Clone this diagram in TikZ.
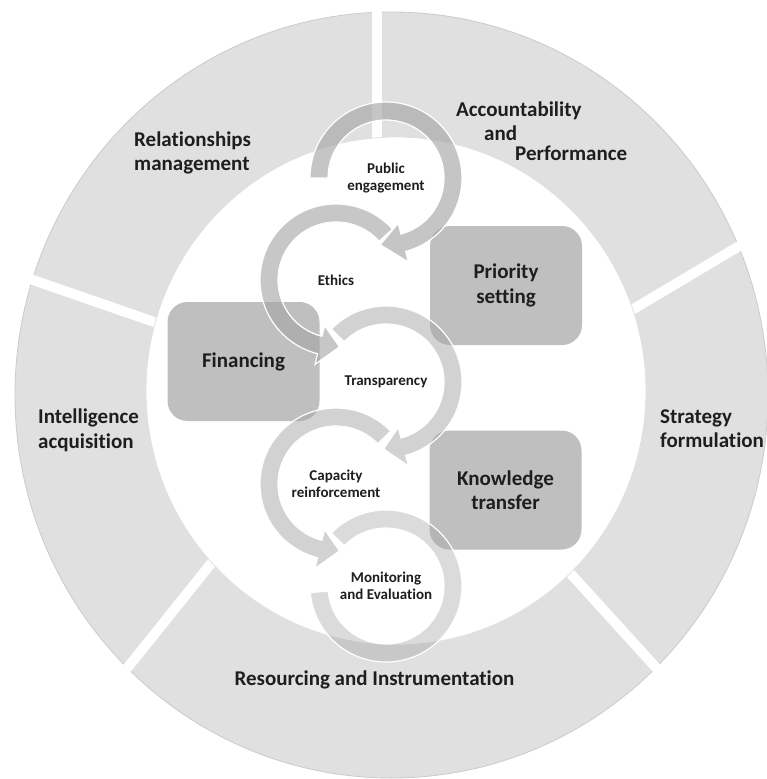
\documentclass[tikz,border=0pt]{standalone}
\usepackage{fontspec}
\setmainfont{Carlito}[Ligatures={NoCommon,NoRequired,NoContextual}]
\definecolor{ringgray}{HTML}{E0E0E0}
\definecolor{ringedge}{HTML}{CBCBCB}
\definecolor{boxgray}{HTML}{BFBFBF}
\definecolor{labelgray}{HTML}{1E1E1E}
\tikzset{
  seglabel/.style={font=\fontsize{21}{24.5}\selectfont\bfseries, text=labelgray, align=left, inner sep=0pt},
  steplabel/.style={font=\fontsize{15}{17}\selectfont\bfseries, text=labelgray, align=center, inner sep=0pt},
  stepbox/.style={fill=boxgray, rounded corners=20pt, minimum width=152pt, minimum height=119pt,
    font=\fontsize{21}{24.5}\selectfont\bfseries, text=labelgray, align=center},
  ringarrow/.style={fill=black!35, draw=white, line width=1.2pt},
  gapline/.style={white, line width=10pt}
}
% circular arrow round a label: centre, start, end of body, tip, opacity
\newcommand{\cycarrow}[5]{%
  \draw[ringarrow, fill opacity=#5, shift={(#1)}]
    (#2:76) arc[start angle=#2, end angle=#3, radius=76]
    -- (#3:87) -- (#4:67) -- (#3:47) -- (#3:58)
    arc[start angle=#3, end angle=#2, radius=58] -- cycle;}
\begin{document}
\begin{tikzpicture}[x=1pt,y=-1pt]
  \useasboundingbox (0,0) rectangle (767,779);

  % outer ring and its gaps
  \fill[ringgray, draw=ringedge, line width=0.8pt] (391.5,395) ellipse [x radius=376.5, y radius=383];
  \draw[gapline] (377,-5) -- (377,170);
  \draw[gapline] (0,268.6) -- (200,337.8);
  \draw[gapline] (600,328.9) -- (780,221.8);
  \draw[gapline] (540,540) -- (720,738);
  \draw[gapline] (230,540) -- (100,702);
  \fill[white, draw=black!12, line width=0.8pt] (396,391) ellipse [x radius=250, y radius=254];

  \node[seglabel, anchor=west] (rel) at (134,153) {Relationships\\management};
  \node[seglabel, anchor=west] (acc) at (456,131) {Accountability\\\hspace*{28pt}and\\[-4.5pt]\hspace*{59pt}Performance};
  \node[seglabel, anchor=west] (str) at (660,428.5) {Strategy\\formulation};
  \node[seglabel, anchor=west] (int) at (38,430.5) {Intelligence\\acquisition};
  \node[seglabel] (res) at (374.5,680) {Resourcing and Instrumentation};

  % boxes
  \node[stepbox] (prio) at (506,285.5) {Priority\\setting};
  \node[stepbox] (fin) at (243.5,361.5) {Financing};
  \node[stepbox] (know) at (505.5,490) {Knowledge\\transfer};

  % steps
  \node[steplabel] (pub) at (386,178) {Public\\engagement};
  \node[steplabel] (eth) at (336,280) {Ethics};
  \node[steplabel] (tra) at (386,382) {Transparency};
  \node[steplabel] (cap) at (336,484) {Capacity\\reinforcement};
  \node[steplabel] (mon) at (386,586) {Monitoring\\and Evaluation};

  \draw[ringarrow, fill opacity=0.4, shift={(mon)}]
    (224:76) arc[start angle=224, end angle=535, radius=76] -- (535:58)
    arc[start angle=535, end angle=224, radius=58] -- cycle;
  \cycarrow{cap}{-44}{-256}{-273}{0.5}
  \cycarrow{tra}{224}{435}{452}{0.5}
  \cycarrow{eth}{-42}{-256}{-273}{0.62}
  \cycarrow{pub}{180}{435}{455}{0.65}
\end{tikzpicture}
\end{document}
